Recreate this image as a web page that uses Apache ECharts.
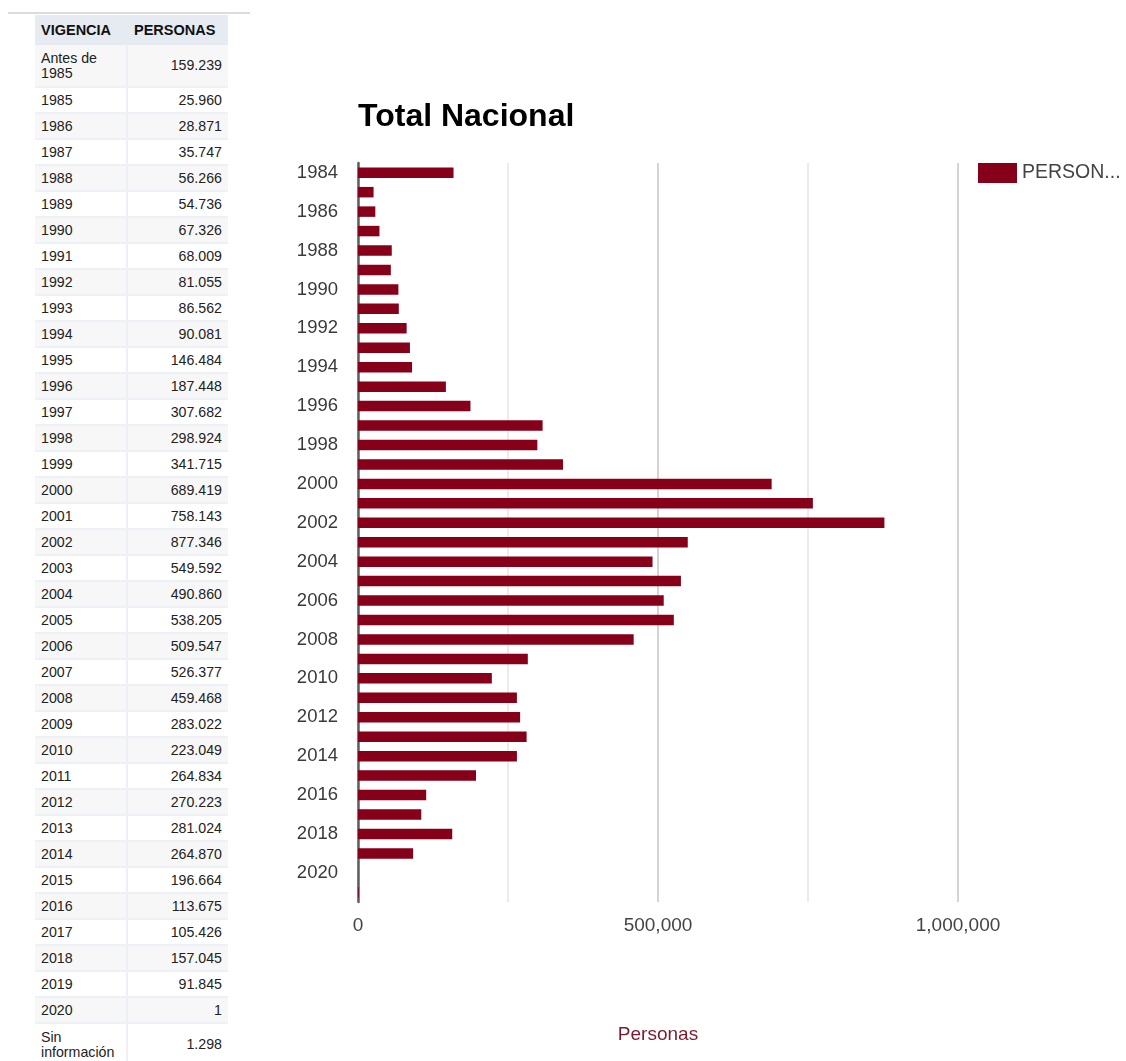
<!DOCTYPE html>
<html>
<head>
<meta charset="utf-8">
<script src="https://cdn.jsdelivr.net/npm/echarts@6/dist/echarts.min.js"></script>
<style>
  html, body { margin: 0; padding: 0; background: #fff; }
  #chart { position: absolute; left: 0; top: 0; width: 1126px; height: 1061px; }
  #tbl { position: absolute; left: 0; top: 0; width: 260px; height: 1061px; overflow: hidden;
         font-family: "Liberation Sans", Arial, sans-serif; color: #222; }
  .cell { position: absolute; box-sizing: border-box; display: flex; align-items: center; font-size: 14.2px; line-height: 15px; }
  .c1 { padding-left: 6px; }
  .c2 { justify-content: flex-end; padding-right: 6px; }
  .hdr { background: #e6ebf1; font-weight: bold; font-size: 14.5px; color: #111; }
</style>
</head>
<body>
<div id="chart"></div>
<div id="tbl"></div>
<script>
// ---- data ----
const vigencia = ['Antes de 1985','1985','1986','1987','1988','1989','1990','1991','1992','1993','1994',
  '1995','1996','1997','1998','1999','2000','2001','2002','2003','2004','2005','2006','2007','2008',
  '2009','2010','2011','2012','2013','2014','2015','2016','2017','2018','2019','2020','Sin información'];
const personas = [159239, 25960, 28871, 35747, 56266, 54736, 67326, 68009, 81055, 86562, 90081,
  146484, 187448, 307682, 298924, 341715, 689419, 758143, 877346, 549592, 490860, 538205, 509547, 526377, 459468,
  283022, 223049, 264834, 270223, 281024, 264870, 196664, 113675, 105426, 157045, 91845, 1, 1298];
const axisYears = ['1984','1985','1986','1987','1988','1989','1990','1991','1992','1993','1994',
  '1995','1996','1997','1998','1999','2000','2001','2002','2003','2004','2005','2006','2007','2008',
  '2009','2010','2011','2012','2013','2014','2015','2016','2017','2018','2019','2020','2021'];
const xTicks = [0, 500000, 1000000];
const headers = ['VIGENCIA', 'PERSONAS'];
const seriesName = 'PERSONAS';
const titleText = 'Total Nacional';
const axisTitle = 'Personas';

// ---- table ----
function fmtDot(n) { return String(n).replace(/\B(?=(\d{3})+(?!\d))/g, '.'); }
function fmtComma(n) { return String(n).replace(/\B(?=(\d{3})+(?!\d))/g, ','); }
(function buildTable() {
  const t = document.getElementById('tbl');
  const line = document.createElement('div');
  line.style.cssText = 'position:absolute;left:8px;top:12px;width:242px;height:2px;background:#dcdcdc;';
  t.appendChild(line);
  const X1 = 35, W1 = 91, X2 = 128, W2 = 100;
  const bg = document.createElement('div');
  bg.style.cssText = 'position:absolute;left:' + X1 + 'px;top:15px;width:' + (X2 + W2 - X1) + 'px;height:1100px;background:#edf0f4;';
  t.appendChild(bg);
  function addCell(x, y, w, h, txt, cls, fill) {
    const d = document.createElement('div');
    d.className = 'cell ' + cls;
    d.style.left = x + 'px'; d.style.top = y + 'px'; d.style.width = w + 'px'; d.style.height = h + 'px';
    if (fill) d.style.background = fill;
    d.innerHTML = txt;
    t.appendChild(d);
  }
  addCell(X1, 15, X2 + W2 - X1, 30, '', 'hdr', '#e6ebf1');
  addCell(X1, 15, W1, 30, headers[0], 'hdr c1', '#e6ebf1');
  addCell(X2, 15, W2, 30, headers[1], 'hdr c1', '#e6ebf1');
  let y = 45;
  vigencia.forEach((v, i) => {
    const twoLine = v.indexOf(' ') > 0;
    const h = twoLine ? 43 : 26;
    const fill = (i % 2 === 0) ? '#f7f7f7' : '#ffffff';
    let lab = v;
    if (twoLine) {
      const k = v.lastIndexOf(' ');
      lab = v.slice(0, k) + '<br>' + v.slice(k + 1);
    }
    addCell(X1, y, W1, h - 2, lab, 'c1', fill);
    addCell(X2, y, W2, h - 2, fmtDot(personas[i]), 'c2', fill);
    y += h;
  });
})();

// ---- chart ----
const chart = echarts.init(document.getElementById('chart'), null, { renderer: 'canvas' });
const FONT = '"Liberation Sans", Arial, sans-serif';
chart.setOption({
  animation: false,
  backgroundColor: 'transparent',
  title: {
    text: titleText, left: 353, top: 96,
    textStyle: { fontFamily: FONT, fontSize: 32, fontWeight: 'bold', color: '#000' }
  },
  legend: {
    data: [seriesName], left: 973, top: 158, itemWidth: 39, itemHeight: 20, itemGap: 6,
    icon: 'rect',
    textStyle: { fontFamily: FONT, fontSize: 19.5, color: '#444', width: 100, overflow: 'truncate', ellipsis: '...' }
  },
  grid: { left: 358, top: 163, width: 600, height: 739, containLabel: false },
  xAxis: {
    type: 'value', min: 0, max: 1000000, interval: 500000,
    name: axisTitle, nameLocation: 'middle', nameGap: 123,
    nameTextStyle: { fontFamily: FONT, fontSize: 19, color: '#7a1a2e' },
    axisLine: { show: false }, axisTick: { show: false },
    axisLabel: {
      fontFamily: FONT, fontSize: 19, color: '#444', margin: 14,
      formatter: v => xTicks.indexOf(v) >= 0 ? fmtComma(v) : ''
    },
    splitLine: { show: true, lineStyle: { color: '#d4d4d4', width: 2 } },
    minorTick: { show: false, splitNumber: 2 },
    minorSplitLine: { show: true, lineStyle: { color: '#ebebeb', width: 2 } }
  },
  yAxis: {
    type: 'category', data: axisYears, inverse: true,
    axisLine: { show: true, lineStyle: { color: '#5f5f5f', width: 2.5 } },
    axisTick: { show: false },
    axisLabel: { interval: 1, fontFamily: FONT, fontSize: 18.5, color: '#3a3a3a', margin: 20 },
    splitLine: { show: false }
  },
  series: [{
    name: seriesName, type: 'bar', data: personas, barWidth: 10.5,
    itemStyle: { color: '#86001a' }
  }]
});
</script>
</body>
</html>
